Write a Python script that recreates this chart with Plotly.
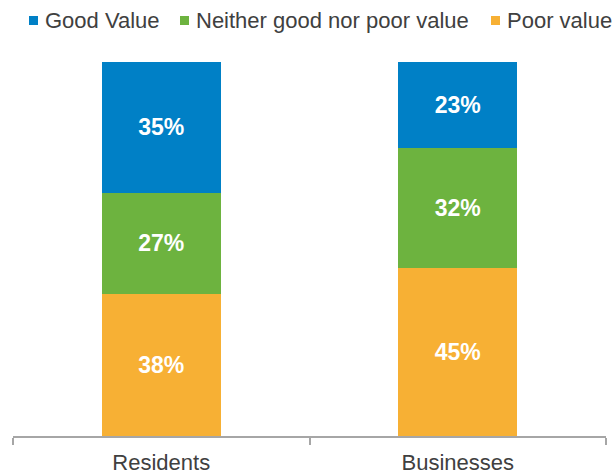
import plotly.graph_objects as go

categories = ["Residents", "Businesses"]
series_names = ["Poor value", "Neither good nor poor value", "Good Value"]
poor_value = [38, 45]
neither_value = [27, 32]
good_value = [35, 23]
colors = ["#F7B034", "#6DB33F", "#0080C6"]

FONT = "Liberation Sans, Arial, sans-serif"
TEXT_COLOR = "#404040"

# figure geometry in pixels (used to place the hand-built legend)
W, H = 616, 475
M_L, M_R, M_T, M_B = 13, 10, 62, 39
PW, PH = W - M_L - M_R, H - M_T - M_B


def px_x(x):
    return (x - M_L) / PW


def px_y(y):
    return (H - M_B - y) / PH


fig = go.Figure()
for name, vals, col in zip(series_names, [poor_value, neither_value, good_value], colors):
    fig.add_trace(go.Bar(
        x=categories, y=vals, name=name,
        marker=dict(color=col, line=dict(width=0)),
        texttemplate="%{y}%", textposition="inside", insidetextanchor="middle",
        textfont=dict(family=FONT, size=23, color="white", weight="bold"),
        hoverinfo="skip", showlegend=False,
    ))

# legend row: small square swatch followed by label, Good Value first
legend_items = [("Good Value", "#0080C6", 29), ("Neither good nor poor value", "#6DB33F", 180),
                ("Poor value", "#F7B034", 491)]
shapes, annotations = [], []
for label, col, x0 in legend_items:
    shapes.append(dict(type="rect", xref="paper", yref="paper",
                       x0=px_x(x0), x1=px_x(x0 + 9), y0=px_y(25), y1=px_y(16),
                       fillcolor=col, line=dict(width=0)))
    annotations.append(dict(xref="paper", yref="paper", x=px_x(x0 + 14), y=px_y(20),
                            xanchor="left", yanchor="middle", showarrow=False, text=label,
                            font=dict(family=FONT, size=22, color=TEXT_COLOR)))

fig.update_layout(
    width=W, height=H,
    barmode="stack", bargap=0.6,
    margin=dict(l=M_L, r=M_R, t=M_T, b=M_B, autoexpand=False),
    plot_bgcolor="white", paper_bgcolor="white",
    font=dict(family=FONT, color=TEXT_COLOR),
    showlegend=False,
    shapes=shapes, annotations=annotations,
    xaxis=dict(showline=True, linecolor="#A6A6A6", linewidth=1.5,
               ticks="outside", tickson="boundaries", ticklen=7, tickwidth=1.5,
               tickcolor="#A6A6A6", ticklabelstandoff=6, automargin=False,
               tickfont=dict(family=FONT, size=22, color=TEXT_COLOR), showgrid=False),
    yaxis=dict(range=[0, 100], visible=False),
    uniformtext=dict(mode="show", minsize=23),
)

fig.write_html("out.html")
